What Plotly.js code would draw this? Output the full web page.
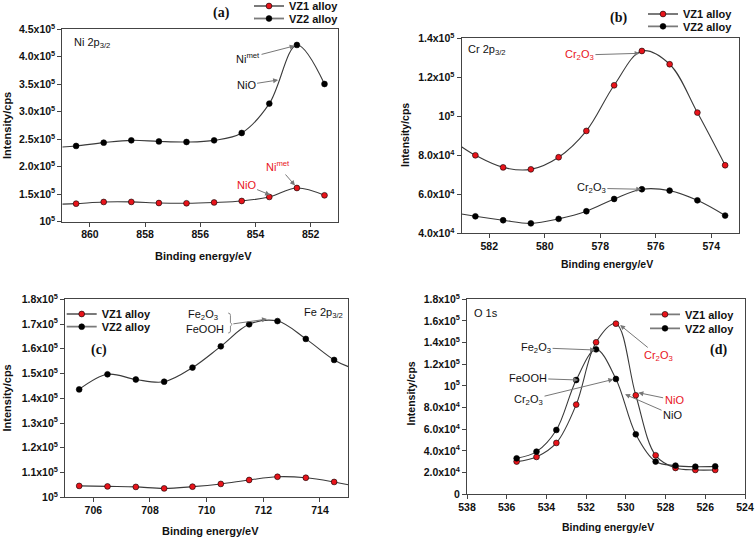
<!DOCTYPE html>
<html>
<head>
<meta charset="utf-8">
<script src="https://cdn.plot.ly/plotly-3.0.1.min.js"></script>
<style>
  html, body { margin: 0; padding: 0; background: #fff; }
  #chart { width: 756px; height: 540px; }
</style>
</head>
<body>
<div id="chart"></div>
<script>
// ---------------- DATA ----------------
const seriesNames = ['VZ1 alloy', 'VZ2 alloy'];

// (a) Ni 2p3/2
const niEnergy = [860.5, 859.5, 858.5, 857.5, 856.5, 855.5, 854.5, 853.5, 852.5, 851.5];
const niVZ1 = [1.328e5, 1.359e5, 1.36e5, 1.34e5, 1.335e5, 1.35e5, 1.377e5, 1.45e5, 1.613e5, 1.48e5];
const niVZ2 = [2.378e5, 2.438e5, 2.48e5, 2.46e5, 2.45e5, 2.48e5, 2.614e5, 3.148e5, 4.215e5, 3.505e5];
const niCurveEdge = 861;          // fitted curve continues to this energy
const niVZ1Edge = 1.32e5;
const niVZ2Edge = 2.36e5;
const niYTicks = [1e5, 1.5e5, 2e5, 2.5e5, 3e5, 3.5e5, 4e5, 4.5e5];
const niYTickText = ['10<sup>5</sup>', '1.5x10<sup>5</sup>', '2.0x10<sup>5</sup>', '2.5x10<sup>5</sup>',
                     '3.0x10<sup>5</sup>', '3.5x10<sup>5</sup>', '4.0x10<sup>5</sup>', '4.5x10<sup>5</sup>'];

// (b) Cr 2p3/2
const crEnergy = [582.5, 581.5, 580.5, 579.5, 578.5, 577.5, 576.5, 575.5, 574.5, 573.5];
const crVZ1 = [8.0e4, 7.38e4, 7.28e4, 7.9e4, 9.25e4, 1.159e5, 1.335e5, 1.267e5, 1.019e5, 7.49e4];
const crVZ2 = [4.87e4, 4.67e4, 4.51e4, 4.74e4, 5.13e4, 5.76e4, 6.26e4, 6.19e4, 5.69e4, 4.91e4];
const crCurveEdge = 583;
const crVZ1Edge = 8.44e4;
const crVZ2Edge = 4.99e4;
const crYTicks = [4e4, 6e4, 8e4, 1e5, 1.2e5, 1.4e5];
const crYTickText = ['4.0x10<sup>4</sup>', '6.0x10<sup>4</sup>', '8.0x10<sup>4</sup>', '10<sup>5</sup>',
                     '1.2x10<sup>5</sup>', '1.4x10<sup>5</sup>'];

// (c) Fe 2p3/2
const feEnergy = [705.5, 706.5, 707.5, 708.5, 709.5, 710.5, 711.5, 712.5, 713.5, 714.5];
const feVZ1 = [1.046e5, 1.044e5, 1.042e5, 1.036e5, 1.043e5, 1.054e5, 1.07e5, 1.083e5, 1.079e5, 1.062e5];
const feVZ2 = [1.436e5, 1.497e5, 1.476e5, 1.467e5, 1.524e5, 1.61e5, 1.699e5, 1.712e5, 1.64e5, 1.555e5];
const feCurveEdge = 715;
const feVZ1Edge = 1.051e5;
const feVZ2Edge = 1.528e5;
const feYTicks = [1e5, 1.1e5, 1.2e5, 1.3e5, 1.4e5, 1.5e5, 1.6e5, 1.7e5, 1.8e5];
const feYTickText = ['10<sup>5</sup>', '1.1x10<sup>5</sup>', '1.2x10<sup>5</sup>', '1.3x10<sup>5</sup>',
                     '1.4x10<sup>5</sup>', '1.5x10<sup>5</sup>', '1.6x10<sup>5</sup>', '1.7x10<sup>5</sup>', '1.8x10<sup>5</sup>'];

// (d) O 1s
const oEnergy = [535.5, 534.5, 533.5, 532.5, 531.5, 530.5, 529.5, 528.5, 527.5, 526.5, 525.5];
const oVZ1 = [3.02e4, 3.45e4, 4.74e4, 8.28e4, 1.403e5, 1.575e5, 9.14e4, 3.6e4, 2.43e4, 2.25e4, 2.25e4];
const oVZ2 = [3.32e4, 3.94e4, 5.94e4, 1.055e5, 1.338e5, 1.065e5, 5.54e4, 3.02e4, 2.65e4, 2.55e4, 2.58e4];
const oYTicks = [0, 2e4, 4e4, 6e4, 8e4, 1e5, 1.2e5, 1.4e5, 1.6e5, 1.8e5];
const oYTickText = ['0', '2.0x10<sup>4</sup>', '4.0x10<sup>4</sup>', '6.0x10<sup>4</sup>', '8.0x10<sup>4</sup>',
                    '10<sup>5</sup>', '1.2x10<sup>5</sup>', '1.4x10<sup>5</sup>', '1.6x10<sup>5</sup>', '1.8x10<sup>5</sup>'];

// ---------------- STYLE ----------------
const SANS = 'Liberation Sans, Arial, sans-serif';
const SERIF = 'Liberation Serif, Times New Roman, serif';
const RED = '#e8141b';
const LINE = '#3a3a3a';
const AXIS = '#444';
const W = 756, H = 540;
const px = v => v / W;
const py = v => 1 - v / H;

const markerStyle = [
  { color: RED, size: 5.8, line: { color: '#000', width: 0.6 } },
  { color: '#000', size: 5.8, line: { color: '#000', width: 0.6 } }
];

const traces = [];
function addPanel(k, energy, values, edgeX, edgeVals, edgeSide, legends) {
  const xa = k === 1 ? 'x' : 'x' + k;
  const ya = k === 1 ? 'y' : 'y' + k;
  values.forEach((vals, i) => {
    let lx = energy.slice(), ly = vals.slice();
    if (edgeSide === 'start') { lx.unshift(edgeX); ly.unshift(edgeVals[i]); }
    else if (edgeSide === 'end') { lx.push(edgeX); ly.push(edgeVals[i]); }
    traces.push({ type: 'scatter', mode: 'lines', x: lx, y: ly, xaxis: xa, yaxis: ya,
      line: { color: LINE, width: 1.1, shape: 'spline', smoothing: 1 }, showlegend: false, hoverinfo: 'skip' });
  });
  values.forEach((vals, i) => {
    traces.push({ type: 'scatter', mode: 'markers', x: energy, y: vals, xaxis: xa, yaxis: ya,
      marker: markerStyle[i], showlegend: false, name: seriesNames[i] });
  });
  values.forEach((vals, i) => {
    traces.push({ type: 'scatter', mode: 'lines+markers', x: [null], y: [null], xaxis: xa, yaxis: ya,
      name: seriesNames[i], legend: legends[i], showlegend: true,
      line: { color: '#7a7a7a', width: 1.8 }, marker: markerStyle[i] });
  });
}
addPanel(1, niEnergy, [niVZ1, niVZ2], niCurveEdge, [niVZ1Edge, niVZ2Edge], 'start', ['legend', 'legend2']);
addPanel(2, crEnergy, [crVZ1, crVZ2], crCurveEdge, [crVZ1Edge, crVZ2Edge], 'start', ['legend3', 'legend4']);
addPanel(3, feEnergy, [feVZ1, feVZ2], feCurveEdge, [feVZ1Edge, feVZ2Edge], 'end', ['legend5', 'legend6']);
addPanel(4, oEnergy, [oVZ1, oVZ2], null, null, 'none', ['legend7', 'legend8']);

function xAxis(range, domain, anchor, fs) {
  return { domain, anchor, range, autorange: false, tickmode: 'linear', tick0: 0, dtick: 2,
    showline: true, mirror: true, linecolor: AXIS, linewidth: 1, ticks: 'outside', ticklen: 4,
    tickcolor: AXIS, showgrid: false, zeroline: false, ticklabelstandoff: -1,
    tickfont: { family: SANS, size: fs, weight: 'bold', color: '#111' } };
}
function yAxis(range, domain, anchor, tv, tt, fs) {
  return { domain, anchor, range, autorange: false, tickmode: 'array', tickvals: tv, ticktext: tt,
    showline: true, mirror: true, linecolor: AXIS, linewidth: 1, ticks: 'outside', ticklen: 4,
    tickcolor: AXIS, showgrid: false, zeroline: false,
    tickfont: { family: SANS, size: fs, weight: 'bold', color: '#111' } };
}

const legendBase = (x, y, fs) => ({ x: px(x), y: py(y), xanchor: 'left', yanchor: 'middle',
  bgcolor: 'rgba(0,0,0,0)', borderwidth: 0, itemwidth: 30,
  font: { family: SANS, size: fs, weight: 'bold', color: '#111' } });

function arrowNote(xa, ya, text, tipX, tipY, tailX, tailY, color, fs) {
  return { xref: xa, yref: ya, axref: xa, ayref: ya, x: tipX, y: tipY, ax: tailX, ay: tailY,
    text, showarrow: true, arrowhead: 2, arrowsize: 1, arrowwidth: 1, arrowcolor: '#777', standoff: 0,
    font: { family: SANS, size: fs || 11, color: color } };
}
function note(xref, yref, x, y, text, opts) {
  return Object.assign({ xref, yref, x, y, text, showarrow: false,
    font: { family: SANS, size: 11, color: '#111' } }, opts || {});
}
const boldTitle = (x, y, text, fs, angle) => ({ xref: 'paper', yref: 'paper', x: px(x), y: py(y), text,
  showarrow: false, textangle: angle || 0, xanchor: 'center', yanchor: 'middle',
  font: { family: SANS, size: fs, weight: 'bold', color: '#111' } });
const panelLabel = (x, y, text) => ({ xref: 'paper', yref: 'paper', x: px(x), y: py(y), text,
  showarrow: false, xanchor: 'center', yanchor: 'middle',
  font: { family: SERIF, size: 14, weight: 'bold', color: '#111' } });

const annotations = [
  // axis titles
  boldTitle(6.5, 125.5, 'Intensity/cps', 11, -90),
  boldTitle(203, 256, 'Binding energy/eV', 11),
  boldTitle(405, 135, 'Intensity/cps', 10.5, -90),
  boldTitle(607, 264, 'Binding energy/eV', 10.5),
  boldTitle(6.5, 398, 'Intensity/cps', 11, -90),
  boldTitle(210, 531, 'Binding energy/eV', 11),
  boldTitle(410.5, 394, 'Intensity/cps', 10.5, -90),
  boldTitle(608, 527, 'Binding energy/eV', 10.5),
  // panel labels
  panelLabel(221, 13, '(a)'),
  panelLabel(618, 18, '(b)'),
  panelLabel(99, 350, '(c)'),
  panelLabel(718, 350, '(d)'),
  // (a)
  note('x', 'y', 860.65, 4.25e5, 'Ni 2p<sub>3/2</sub>', { xanchor: 'left' }),
  arrowNote('x', 'y', 'Ni<sup>met</sup>', 852.58, 4.2e5, 854.27, 3.98e5, '#111'),
  arrowNote('x', 'y', 'NiO', 853.18, 3.578e5, 854.34, 3.487e5, '#111'),
  arrowNote('x', 'y', 'Ni<sup>met</sup>', 852.57, 1.66e5, 853.18, 2.013e5, RED),
  arrowNote('x', 'y', 'NiO', 853.47, 1.486e5, 854.34, 1.667e5, RED),
  // (b)
  note('x2', 'y2', 582.83, 1.34e5, 'Cr 2p<sub>3/2</sub>', { xanchor: 'left' }),
  arrowNote('x2', 'y2', 'Cr<sub>2</sub>O<sub>3</sub>', 576.58, 1.323e5, 578.75, 1.314e5, RED),
  arrowNote('x2', 'y2', 'Cr<sub>2</sub>O<sub>3</sub>', 576.52, 6.26e4, 578.32, 6.31e4, '#111'),
  // (c)
  note('x3', 'y3', 714.88, 1.745e5, 'Fe 2p<sub>3/2</sub>', { xanchor: 'right' }),
  note('x3', 'y3', 709.88, 1.7365e5, 'Fe<sub>2</sub>O<sub>3</sub>'),
  note('x3', 'y3', 709.94, 1.68e5, 'FeOOH'),
  arrowNote('x3', 'y3', '', 712.13, 1.72e5, 710.89, 1.70e5, '#111'),
  // (d)
  note('x4', 'y4', 537.75, 1.674e5, 'O 1s', { xanchor: 'left' }),
  arrowNote('x4', 'y4', 'Fe<sub>2</sub>O<sub>3</sub>', 531.55, 1.332e5, 534.52, 1.353e5, '#111'),
  arrowNote('x4', 'y4', 'FeOOH', 532.39, 1.055e5, 534.94, 1.071e5, '#111'),
  arrowNote('x4', 'y4', 'Cr<sub>2</sub>O<sub>3</sub>', 530.63, 1.061e5, 534.9, 8.7e4, '#111'),
  arrowNote('x4', 'y4', 'Cr<sub>2</sub>O<sub>3</sub>', 530.29, 1.563e5, 528.37, 1.277e5, RED),
  arrowNote('x4', 'y4', 'NiO', 529.37, 9.38e4, 527.57, 8.7e4, RED),
  arrowNote('x4', 'y4', 'NiO', 530.04, 9.23e4, 527.65, 7.32e4, '#111')
];

const shapes = [
  // bracket joining Fe2O3 / FeOOH labels in (c)
  { type: 'path', xref: 'x3', yref: 'y3',
    path: 'M 710.76,1.7445e5 Q 710.84,1.7445e5 710.84,1.735e5 L 710.84,1.705e5 L 710.9,1.6987e5 L 710.84,1.692e5 L 710.84,1.672e5 Q 710.84,1.6638e5 710.76,1.6638e5',
    line: { color: '#888', width: 1 } }
];

const layout = {
  width: W, height: H, margin: { l: 0, r: 0, t: 0, b: 0, autoexpand: false },
  paper_bgcolor: '#fff', plot_bgcolor: '#fff',
  xaxis: xAxis([861, 851], [px(62.3), px(338.3)], 'y', 10.5),
  yaxis: yAxis([1e5, 4.5e5], [py(221.7), py(29.3)], 'x', niYTicks, niYTickText, 10.5),
  xaxis2: xAxis([583, 573], [px(461.5), px(739)], 'y2', 10.5),
  yaxis2: yAxis([4e4, 1.4e5], [py(233.3), py(38.3)], 'x2', crYTicks, crYTickText, 10.5),
  xaxis3: xAxis([705, 715], [px(65), px(348.3)], 'y3', 10.5),
  yaxis3: yAxis([1e5, 1.8e5], [py(497.3), py(299.3)], 'x3', feYTicks, feYTickText, 10.5),
  xaxis4: xAxis([538, 524], [px(467), px(745)], 'y4', 10.5),
  yaxis4: yAxis([0, 1.8e5], [py(494.3), py(299.3)], 'x4', oYTicks, oYTickText, 10.5),
  legend: legendBase(249, 6, 11),
  legend2: legendBase(249, 18.5, 11),
  legend3: legendBase(643, 14, 11),
  legend4: legendBase(643, 26.3, 11),
  legend5: legendBase(61.7, 314, 11),
  legend6: legendBase(61.7, 326.7, 11),
  legend7: legendBase(645, 314.3, 11),
  legend8: legendBase(645, 328.3, 11),
  annotations, shapes,
  showlegend: true
};

Plotly.newPlot('chart', traces, layout, { staticPlot: true, displayModeBar: false });
</script>
</body>
</html>
